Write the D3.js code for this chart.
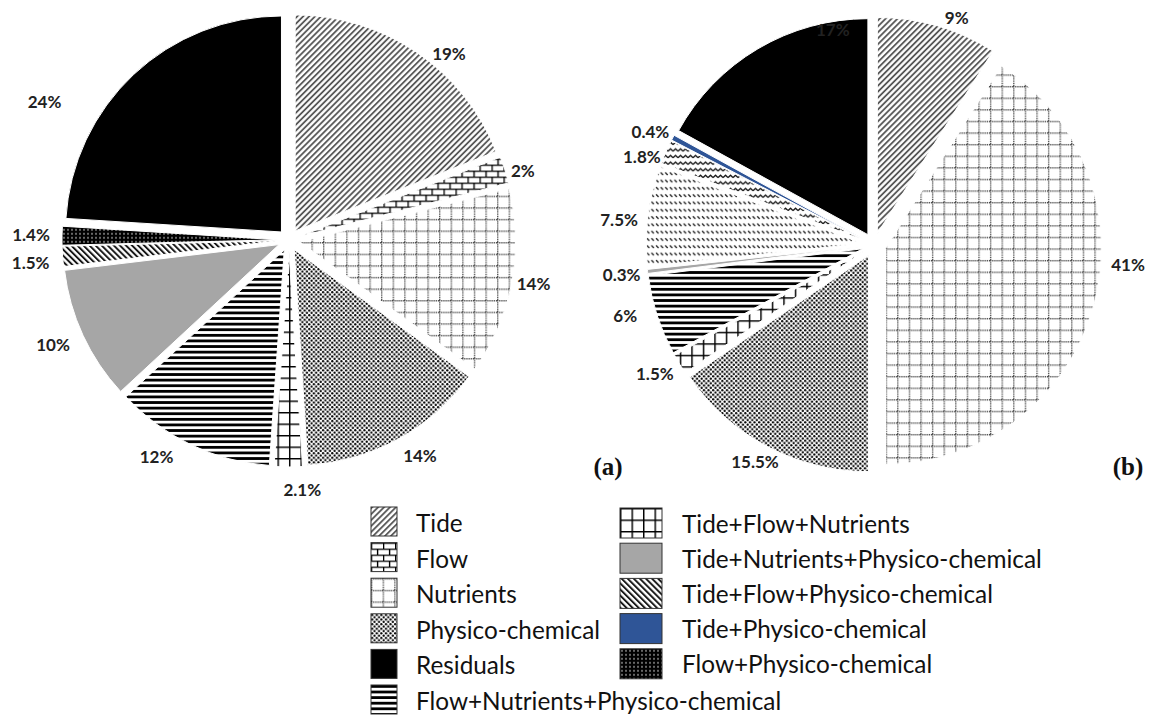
<!DOCTYPE html>
<html>
<head>
<meta charset="utf-8">
<script src="https://cdn.jsdelivr.net/npm/d3@7"></script>
<style>
  html, body { margin: 0; padding: 0; background: #fff; }
  svg { display: block; }
</style>
</head>
<body>
<svg id="chart" width="1149" height="715"></svg>
<script>
// ---- data ----
const legendLeft = ["Tide", "Flow", "Nutrients", "Physico-chemical", "Residuals",
  "Flow+Nutrients+Physico-chemical"];
const legendRight = ["Tide+Flow+Nutrients", "Tide+Nutrients+Physico-chemical",
  "Tide+Flow+Physico-chemical", "Tide+Physico-chemical", "Flow+Physico-chemical"];

const slicesA = ["Tide", "Flow", "Nutrients", "Physico-chemical", "Tide+Flow+Nutrients",
  "Flow+Nutrients+Physico-chemical", "Tide+Nutrients+Physico-chemical",
  "Tide+Flow+Physico-chemical", "Flow+Physico-chemical", "Residuals"];
const valuesA = [19, 2, 14, 14, 2.1, 12, 10, 1.5, 1.4, 24];

const slicesB = ["Tide", "Nutrients", "Physico-chemical", "Tide+Flow+Nutrients",
  "Flow+Nutrients+Physico-chemical", "Tide+Nutrients+Physico-chemical",
  "Tide+Flow+Physico-chemical", "Flow+Physico-chemical", "Tide+Physico-chemical", "Residuals"];
const valuesB = [9, 41, 15.5, 1.5, 6, 0.3, 7.5, 1.8, 0.4, 17];

const panelTags = ["(a)", "(b)"];

// ---- styles ----
const fillOf = {
  "Tide": "url(#p-tide)",
  "Flow": "url(#p-flow)",
  "Nutrients": "url(#p-nutr)",
  "Physico-chemical": "url(#p-phys)",
  "Residuals": "#000",
  "Flow+Nutrients+Physico-chemical": "url(#p-hlines)",
  "Tide+Flow+Nutrients": "url(#p-grid)",
  "Tide+Nutrients+Physico-chemical": "#a6a6a6",
  "Tide+Flow+Physico-chemical": "url(#p-back)",
  "Tide+Physico-chemical": "#2f5597",
  "Flow+Physico-chemical": "url(#p-bdots)"
};
// panel (b) uses its own fills for two of the combined drivers
const fillOfB = Object.assign({}, fillOf, {
  "Tide+Flow+Physico-chemical": "url(#p-dash)",
  "Flow+Physico-chemical": "url(#p-zig)"
});

// label offsets from the default outside-end position
const nudgeA = [[20,19],[-3,7],[0,-3],[11,-3],[14,1],[-25,-8],[-10,0],[-10,5],[-9,-1],[-74,43]];
const nudgeB = [[13,13],[14,-50],[-2,-4],[-6,-2],[-11,-7],[-4,1],[-7,7],[-4,14],[-3,4],[86,0]];

const svg = d3.select("#chart");
svg.append("rect").attr("width", 1149).attr("height", 715).attr("fill", "#fff");

// ---- pattern definitions ----
const defs = svg.append("defs");
function pat(id, w, h, transform) {
  const p = defs.append("pattern").attr("id", id)
    .attr("patternUnits", "userSpaceOnUse").attr("width", w).attr("height", h);
  if (transform) p.attr("patternTransform", transform);
  p.append("rect").attr("width", w).attr("height", h).attr("fill", "#fff");
  return p;
}
// Tide: fine forward diagonals
pat("p-tide", 4.2, 4.2, "rotate(45)")
  .append("line").attr("x1", 1).attr("y1", 0).attr("x2", 1).attr("y2", 4.2)
  .attr("stroke", "#4a4a4a").attr("stroke-width", 1.7);
// Flow: brick
{
  const p = pat("p-flow", 12, 12);
  p.append("path").attr("d", "M0 0.6H12M0 6.6H12M0.6 0.6V6.6M6.6 6.6V12.6")
    .attr("stroke", "#000").attr("stroke-width", 1.4).attr("fill", "none");
}
// Nutrients: dotted grid
{
  const p = pat("p-nutr", 11.6, 11.6);
  p.append("path").attr("d", "M0 0.7H11.6M0.7 0V11.6")
    .attr("stroke", "#444").attr("stroke-width", 1.3).attr("stroke-dasharray", "1.2 0.9")
    .attr("fill", "none");
}
// Physico-chemical: staggered dots
{
  const p = pat("p-phys", 4.6, 4.6);
  p.append("circle").attr("cx", 1.15).attr("cy", 1.15).attr("r", 1.15).attr("fill", "#000");
  p.append("circle").attr("cx", 3.45).attr("cy", 3.45).attr("r", 1.15).attr("fill", "#000");
}
// horizontal bars
pat("p-hlines", 6, 5.6)
  .append("rect").attr("x", 0).attr("y", 0).attr("width", 6).attr("height", 2.8).attr("fill", "#000");
// square grid
{
  const p = pat("p-grid", 11.5, 11.5);
  p.append("path").attr("d", "M0 0.7H11.5M0.7 0V11.5")
    .attr("stroke", "#000").attr("stroke-width", 1.5).attr("fill", "none");
}
// backward diagonals
pat("p-back", 4.3, 4.3, "rotate(-45)")
  .append("line").attr("x1", 1).attr("y1", 0).attr("x2", 1).attr("y2", 4.3)
  .attr("stroke", "#111").attr("stroke-width", 1.9);
// black with small white dots
{
  const p = pat("p-bdots", 4, 4);
  p.select("rect").attr("fill", "#000");
  p.append("circle").attr("cx", 2).attr("cy", 2).attr("r", 0.75).attr("fill", "#fff");
}
// short backslash dashes
pat("p-dash", 4.6, 7.3)
  .append("line").attr("x1", 1).attr("y1", 2).attr("x2", 3.4).attr("y2", 4.6)
  .attr("stroke", "#222").attr("stroke-width", 1.4);
// zigzag
pat("p-zig", 5, 6.6)
  .append("path").attr("d", "M0 3.6L2.5 1.2L5 3.6")
  .attr("stroke", "#111").attr("stroke-width", 1.3).attr("fill", "none");

// ---- text measuring helper ----
function measure(str, size, weight, family) {
  const t = svg.append("text").attr("font-size", size).attr("font-weight", weight)
    .attr("font-family", family).text(str);
  const w = t.node().getComputedTextLength();
  t.remove();
  return w;
}
const labelFont = "Lato, 'Open Sans', sans-serif";
const labelSize = 17;
const legendFont = "Lato, 'Open Sans', sans-serif";
const legendSize = 20 * 311 / measure("Tide+Flow+Physico-chemical", 20, "normal", legendFont);

// ---- pies ----
function drawPie(names, values, fills, nudges, cx, cy, R, explode, tag, tagX, tagY) {
  const pie = d3.pie().sort(null).value(d => d.v).startAngle(0).endAngle(2 * Math.PI);
  const arcs = pie(names.map((n, i) => ({ n, v: values[i], i })));
  const arc = d3.arc().innerRadius(0).outerRadius(R);
  const g = svg.append("g").attr("transform", `translate(${cx},${cy})`);

  g.selectAll("path.slice").data(arcs).join("path")
    .attr("class", "slice")
    .attr("transform", d => {
      const a = (d.startAngle + d.endAngle) / 2;
      return `translate(${explode * Math.sin(a)},${-explode * Math.cos(a)})`;
    })
    .attr("d", arc)
    .attr("fill", d => fills[d.data.n])
    .attr("stroke", "#fff").attr("stroke-width", 1);

  const rl = R + explode + 22;
  const pos = d => {
    const a = (d.startAngle + d.endAngle) / 2;
    return [rl * Math.sin(a) + nudges[d.data.i][0], -rl * Math.cos(a) + nudges[d.data.i][1]];
  };
  g.selectAll("text.lab").data(arcs).join("text")
    .attr("class", "lab")
    .attr("x", d => pos(d)[0])
    .attr("y", d => pos(d)[1])
    .attr("text-anchor", "middle").attr("dominant-baseline", "central")
    .attr("font-family", labelFont).attr("font-weight", "bold")
    .attr("font-size", labelSize)
    // a label sitting on the black residual slice is drawn in white
    .attr("fill", d => Math.hypot(...pos(d)) < R && d.data.n === "Residuals" ? "#fff" : "#222")
    .text(d => `${d.data.v}%`);

  svg.append("text").attr("x", tagX).attr("y", tagY)
    .attr("text-anchor", "middle").attr("dominant-baseline", "central")
    .attr("font-family", "'Liberation Serif', 'Times New Roman', serif")
    .attr("font-weight", "bold").attr("font-size", 25).attr("fill", "#111")
    .text(tag);
}

drawPie(slicesA, valuesA, fillOf, nudgeA, 289, 240, 216, 11, panelTags[0], 608, 466);
drawPie(slicesB, valuesB, fillOfB, nudgeB, 874, 245, 216, 12, panelTags[1], 1128, 466);

// ---- legend ----
const legend = svg.append("g");
const left = legend.selectAll("g.l").data(legendLeft).join("g").attr("class", "l")
  .attr("transform", (d, i) => `translate(371,${507 + i * 35.6})`);
left.append("rect").attr("width", 26).attr("height", 29)
  .attr("fill", d => fillOf[d]).attr("stroke", "#333").attr("stroke-width", 1);
left.append("text").attr("x", 45).attr("y", 15.5)
  .attr("dominant-baseline", "central")
  .attr("font-family", legendFont).attr("font-size", legendSize).attr("fill", "#111")
  .text(d => d);

const right = legend.selectAll("g.r").data(legendRight).join("g").attr("class", "r")
  .attr("transform", (d, i) => `translate(620,${508 + i * 35.2})`);
right.append("rect").attr("width", 42).attr("height", 30)
  .attr("fill", d => fillOf[d]).attr("stroke", "#333").attr("stroke-width", 1);
right.append("text").attr("x", 62).attr("y", 15)
  .attr("dominant-baseline", "central")
  .attr("font-family", legendFont).attr("font-size", legendSize).attr("fill", "#111")
  .text(d => d);
</script>
</body>
</html>
